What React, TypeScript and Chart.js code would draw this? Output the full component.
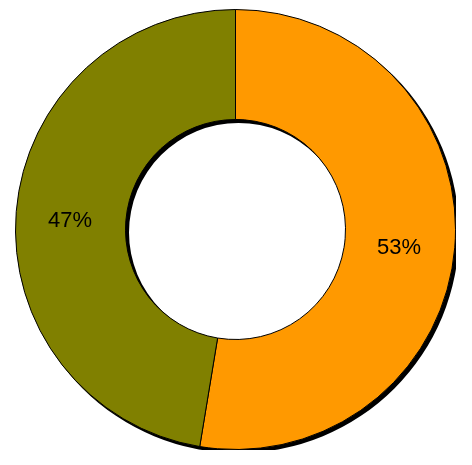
import React, { useEffect, useRef } from "react";
import { Chart, registerables } from "chart.js";

Chart.register(...registerables);

const categories = ["A", "B"];
const values = [52.6, 47.4];
const colors = ["#FF9900", "#808000"];

const shadowPlugin = {
  id: "ringShadow",
  beforeDatasetsDraw(chart: any) {
    const meta = chart.getDatasetMeta(0);
    if (!meta.data.length) return;
    const a: any = meta.data[0];
    const ctx = chart.ctx;
    ctx.save();
    ctx.fillStyle = "#000";
    ctx.beginPath();
    ctx.arc(a.x + 3, a.y + 3, a.outerRadius + 0.5, 0, Math.PI * 2);
    ctx.arc(a.x + 3, a.y + 3, a.innerRadius - 0.5, Math.PI * 2, 0, true);
    ctx.closePath();
    ctx.fill("evenodd");
    ctx.restore();
  },
};

const labelPlugin = {
  id: "pctLabels",
  afterDatasetsDraw(chart: any) {
    const meta = chart.getDatasetMeta(0);
    const ctx = chart.ctx;
    const total = values.reduce((s, v) => s + v, 0);
    ctx.save();
    ctx.fillStyle = "#000";
    ctx.font = "22px 'Liberation Sans', Arial, sans-serif";
    ctx.textAlign = "center";
    ctx.textBaseline = "alphabetic";
    meta.data.forEach((el: any, i: number) => {
      const p = el.tooltipPosition();
      const pct = Math.round((values[i] / total) * 100) + "%";
      ctx.fillText(pct, p.x - 1, p.y + 11);
    });
    ctx.restore();
  },
};

export default function App() {
  const ref = useRef<HTMLCanvasElement>(null);
  useEffect(() => {
    if (!ref.current) return;
    const chart = new Chart(ref.current, {
      type: "doughnut",
      data: {
        labels: categories,
        datasets: [
          {
            data: values,
            backgroundColor: colors,
            borderColor: "#000",
            borderWidth: 1,
            borderAlign: "center",
          },
        ],
      },
      options: {
        animation: false,
        responsive: true,
        maintainAspectRatio: false,
        cutout: "50%",
        layout: { padding: 0 },
        plugins: {
          legend: { display: false },
          tooltip: { enabled: false },
        },
      },
      plugins: [shadowPlugin, labelPlugin],
    });
    return () => chart.destroy();
  }, []);
  return (
    <div style={{ position: "absolute", left: 15, top: 9, width: 441, height: 441 }}>
      <canvas ref={ref} />
    </div>
  );
}
